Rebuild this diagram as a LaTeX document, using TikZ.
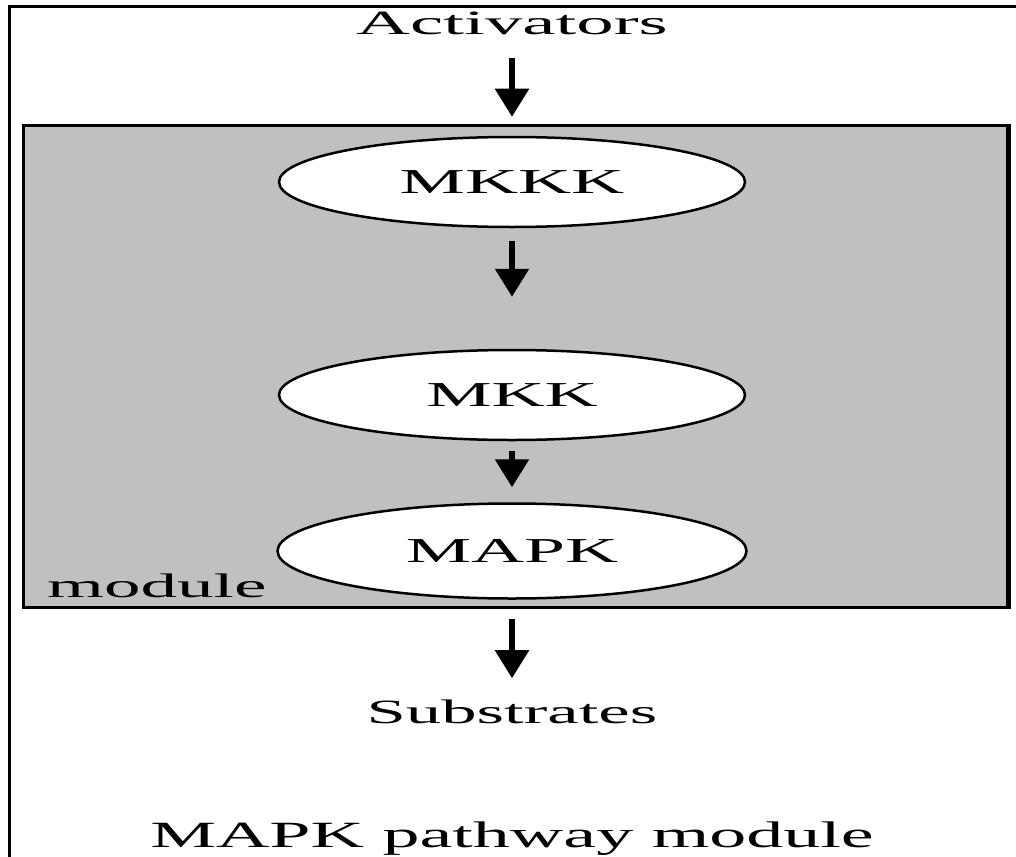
\documentclass[tikz,border=0pt]{standalone}
\usepackage{fontspec}
\setmainfont{Liberation Serif}
\usetikzlibrary{shapes.geometric,arrows.meta}
\definecolor{modgray}{RGB}{192,192,192}
\newcommand{\wide}[2]{\scalebox{#1}[1]{#2}}
\tikzset{
  lbl/.style={inner sep=0pt, anchor=base, font=\fontsize{34pt}{40pt}\selectfont},
  kinase/.style={ellipse, draw=black, line width=2.5pt, fill=white, minimum width=466pt, minimum height=90pt, inner sep=0pt, font=\fontsize{35pt}{40pt}\selectfont},
  arr/.style={line width=5.5pt, -{Triangle[length=28pt,width=33pt]}},
}
\begin{document}
\begin{tikzpicture}[x=1pt,y=-1pt]
\useasboundingbox (0,0) rectangle (1016,856);
% outer frame (top and left edges)
\draw[line width=3pt] (9,860) -- (9,7) -- (1020,7);
% module box
\node[draw=black, line width=3pt, fill=modgray, minimum width=984pt, minimum height=482pt, inner sep=0pt] (box) at (515,366) {};
\draw[line width=4.5pt] (box.north east) -- (box.south east);
% texts
\node[lbl] (act) at (512,35) {\wide{2.2}{Activators}};
\node[lbl] (subs) at (512,723) {\wide{2.08}{Substrates}};
\node[lbl, font=\fontsize{37pt}{42pt}\selectfont] (title) at (512,847) {\wide{2.0}{MAPK pathway module}};
\node[lbl, anchor=base west] (mod) at (47,597) {\wide{2.15}{module}};
% kinases
\node[kinase] (mkkk) at (512,182) {\wide{2.1}{MKKK}};
\node[kinase] (mkk) at (512,395) {\wide{2.1}{MKK}};
\node[kinase, minimum width=469pt, minimum height=95pt] (mapk) at (512,551) {\wide{2.1}{MAPK}};
% arrows
\draw[arr, shorten <=22pt, shorten >=19pt] (act.south) -- (mkkk.north);
\draw[arr, shorten <=13pt, shorten >=52pt] (mkkk.south) -- (mkk.north);
\draw[arr, shorten <=10pt, shorten >=15pt] (mkk.south) -- (mapk.north);
\draw[arr, shorten <=19pt, shorten >=21pt] (mapk.south) -- (subs.north);
\end{tikzpicture}
\end{document}
